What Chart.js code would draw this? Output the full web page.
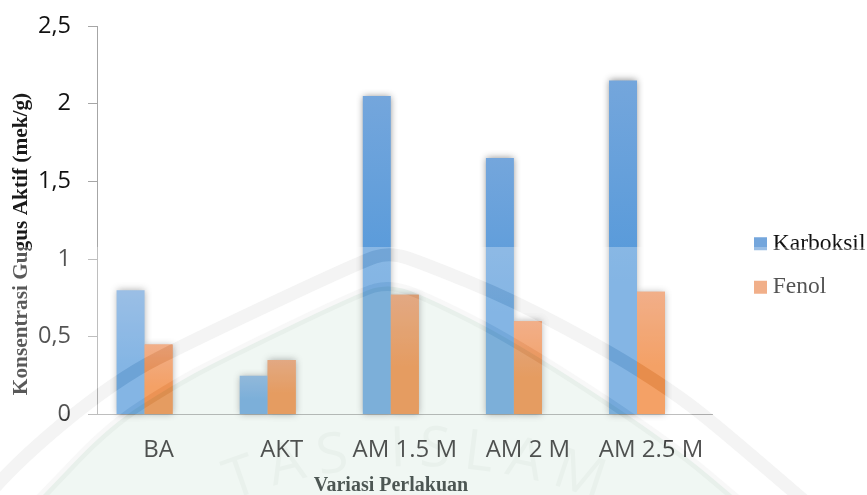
<!DOCTYPE html>
<html>
<head>
<meta charset="utf-8">
<title>Konsentrasi Gugus Aktif</title>
<script src="https://cdn.jsdelivr.net/npm/chart.js@4"></script>
<style>
  html, body { margin: 0; padding: 0; background: #fff; }
  canvas { display: block; }
</style>
</head>
<body>
<canvas id="chart" width="867" height="495"></canvas>
<script>
// Data
const categories = ['BA', 'AKT', 'AM 1.5 M', 'AM 2 M', 'AM 2.5 M'];
const karboksil = [0.8, 0.25, 2.05, 1.65, 2.15];
const fenol = [0.45, 0.35, 0.77, 0.6, 0.79];
const emptySeries = [null, null, null, null, null];
const yTickLabels = ['0', '0,5', '1', '1,5', '2', '2,5'];
const yTitle = 'Konsentrasi Gugus Aktif (mek/g)';
const xTitle = 'Variasi Perlakuan';
const sealText = 'TAS ISLAM';

const serif = '"Liberation Serif", serif';
const sans = '"Open Sans", sans-serif';

// Vertical gradient per bar, lighter at the top
function barFill(top, bottom) {
  return function (ctx) {
    const y = ctx.chart.scales.y;
    if (!ctx.parsed || !y || !isFinite(y.bottom) || !isFinite(y.getPixelForValue(ctx.parsed.y))) return bottom;
    const g = ctx.chart.ctx.createLinearGradient(0, y.getPixelForValue(ctx.parsed.y), 0, y.bottom);
    g.addColorStop(0, top);
    g.addColorStop(0.6, bottom);
    g.addColorStop(1, bottom);
    return g;
  };
}

// Soft shadow behind the bars, Fenol repainted so it sits on top of Karboksil
const barShadow = {
  id: 'barShadow',
  beforeDraw(chart) {
    chart.ctx.fillStyle = '#fff';
    chart.ctx.fillRect(0, 0, chart.width, chart.height);
  },
  beforeDatasetsDraw(chart) {
    const ctx = chart.ctx;
    ctx.save();
    ctx.shadowColor = 'rgba(0,0,0,0.45)';
    ctx.shadowBlur = 7;
  },
  afterDatasetsDraw(chart) {
    chart.ctx.restore();
    chart.getDatasetMeta(1).controller.draw();
  }
};

// Move the legend next to the bars and write both axis titles
const chartText = {
  id: 'chartText',
  afterLayout(chart) {
    chart.legend.left = 740;
    chart.legend.right = 867;
    chart.legend.top = 212;
    chart.legend.bottom = 495;
  },
  afterDraw(chart) {
    const ctx = chart.ctx;
    ctx.save();
    ctx.fillStyle = '#1a1a1a';
    ctx.textAlign = 'center';
    ctx.textBaseline = 'middle';
    ctx.font = 'bold 21.3px ' + serif;
    ctx.translate(21, 244);
    ctx.rotate(-Math.PI / 2);
    ctx.fillText(yTitle, 0, 0);
    ctx.restore();
    ctx.save();
    ctx.fillStyle = '#0f1a17';
    ctx.textAlign = 'center';
    ctx.textBaseline = 'middle';
    ctx.font = 'bold 20px ' + serif;
    ctx.fillText(xTitle, 391, 486);
    ctx.restore();
  }
};

function tracePath(ctx, pts) {
  ctx.moveTo(pts[0][0], pts[0][1]);
  for (let i = 1; i < pts.length - 1; i++) {
    const mx = (pts[i][0] + pts[i + 1][0]) / 2;
    const my = (pts[i][1] + pts[i + 1][1]) / 2;
    ctx.quadraticCurveTo(pts[i][0], pts[i][1], mx, my);
  }
  const last = pts[pts.length - 1];
  ctx.lineTo(last[0], last[1]);
}

// Faint seal over the lower part of the page
const seal = {
  id: 'seal',
  afterDraw(chart) {
    const ctx = chart.ctx;
    const outer = [[-20, 505], [7, 470], [115, 380], [200, 337], [360, 262], [390, 252], [425, 264], [513, 300], [610, 352], [670, 390], [710, 420], [815, 510]];
    const inner = [[0, 540], [43, 495], [110, 425], [173, 385], [215, 362], [360, 292], [390, 284], [425, 296], [513, 340], [667, 440], [750, 510]];

    ctx.save();
    ctx.fillStyle = 'rgba(255,255,255,0.28)';
    ctx.fillRect(0, 247, 867, 248);

    ctx.globalCompositeOperation = 'multiply';
    ctx.beginPath();
    tracePath(ctx, inner);
    ctx.closePath();
    ctx.fillStyle = '#f0f7f3';
    ctx.fill();

    // bands of the seal: light on paper, stronger over the bars
    ctx.lineCap = 'butt';
    [['multiply', 'rgba(90,90,90,0.06)', 'rgba(90,90,90,0.04)'],
     ['color-burn', '#e0e0e0', '#e8e8e8']].forEach(([mode, outerColor, innerColor]) => {
      ctx.globalCompositeOperation = mode;
      ctx.lineWidth = 13;
      ctx.strokeStyle = outerColor;
      ctx.beginPath();
      tracePath(ctx, outer);
      ctx.stroke();
      ctx.lineWidth = 9;
      ctx.strokeStyle = innerColor;
      ctx.beginPath();
      tracePath(ctx, inner);
      ctx.stroke();
    });

    // letters of the seal on a shallow arc
    ctx.globalCompositeOperation = 'multiply';
    ctx.fillStyle = 'rgba(70,90,80,0.04)';
    ctx.font = '56px ' + sans;
    ctx.textAlign = 'center';
    ctx.textBaseline = 'middle';
    const cx = 415, cy = 975, r = 525;
    let total = 0;
    for (const ch of sealText) total += ctx.measureText(ch).width + 14;
    let run = -total / 2;
    for (const ch of sealText) {
      const w = ctx.measureText(ch).width + 14;
      const a = (run + w / 2) / r;
      ctx.save();
      ctx.translate(cx + r * Math.sin(a), cy - r * Math.cos(a));
      ctx.rotate(a);
      ctx.fillText(ch, 0, 0);
      ctx.restore();
      run += w;
    }
    ctx.restore();
  }
};

new Chart(document.getElementById('chart'), {
  type: 'bar',
  data: {
    labels: categories,
    datasets: [
      { label: 'Karboksil', data: karboksil, backgroundColor: barFill('#74a6dc', '#5599da'), clip: false },
      { label: 'Fenol', data: fenol, backgroundColor: barFill('#ec905c', '#f07d2c'), clip: false },
      // empty third series: it keeps the two bars left of each category label
      { label: '', data: emptySeries, backgroundColor: '#a5a5a5' }
    ]
  },
  options: {
    responsive: false,
    animation: false,
    layout: { padding: { top: 26, right: 19, bottom: 0, left: 0 } },
    datasets: { bar: { categoryPercentage: 0.682, barPercentage: 1, borderWidth: 0 } },
    scales: {
      x: {
        afterFit(scale) { scale.height = 80.5; },
        grid: { display: false },
        border: { color: '#a6a6a6', width: 1 },
        ticks: { color: '#111', font: { family: sans, size: 24 }, padding: 13, maxRotation: 0, autoSkip: false }
      },
      y: {
        min: 0,
        max: 2.5,
        afterFit(scale) {
          scale.width = 97;
          scale.paddingTop = 0;
          scale.paddingBottom = 0;
        },
        grid: { drawOnChartArea: false, color: '#a6a6a6', tickLength: 9 },
        border: { color: '#a6a6a6', width: 1 },
        ticks: {
          stepSize: 0.5,
          color: '#111',
          padding: 17,
          font: { family: sans, size: 23.5 },
          callback(value, i) { return yTickLabels[i]; }
        }
      }
    },
    plugins: {
      title: { display: false },
      tooltip: { enabled: false },
      legend: {
        position: 'right',
        align: 'start',
        labels: {
          color: '#111',
          font: { family: serif, size: 23.5 },
          usePointStyle: true,
          pointStyle: 'rect',
          boxWidth: 1,
          boxHeight: 13,
          padding: 20,
          filter: item => item.text !== ''
        }
      }
    }
  },
  plugins: [barShadow, chartText, seal]
});
</script>
</body>
</html>
